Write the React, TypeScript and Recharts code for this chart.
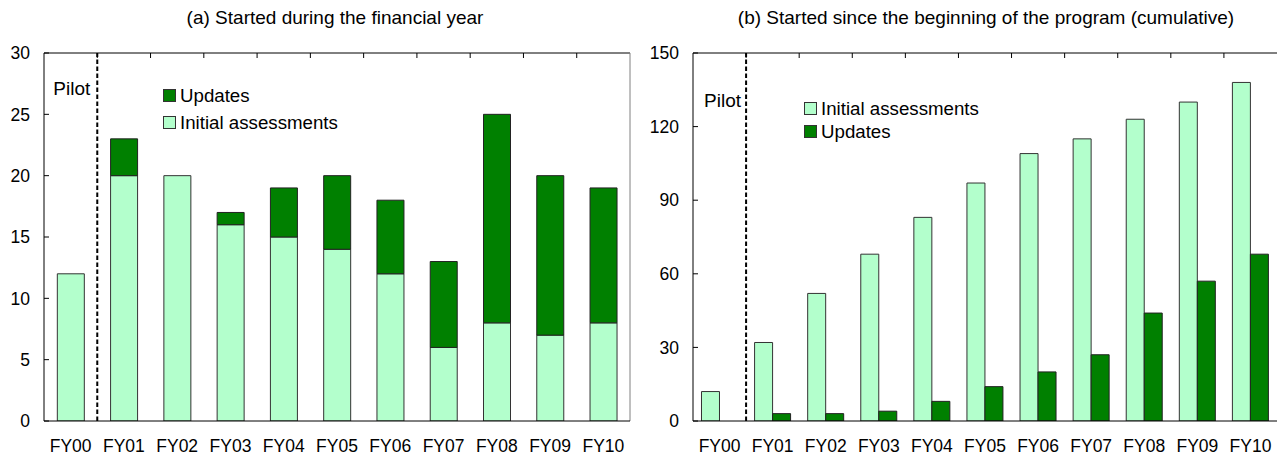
import { BarChart, Bar, XAxis, YAxis, ReferenceLine, Legend } from 'recharts';

const years = ['FY00', 'FY01', 'FY02', 'FY03', 'FY04', 'FY05', 'FY06', 'FY07', 'FY08', 'FY09', 'FY10'];

// (a) started during the financial year
const initialDuring = [12, 20, 20, 16, 15, 14, 12, 6, 8, 7, 8];
const updatesDuring = [0, 3, 0, 1, 4, 6, 6, 7, 17, 13, 11];

// (b) cumulative since the start of the program
const initialCumulative = [12, 32, 52, 68, 83, 97, 109, 115, 123, 130, 138];
const updatesCumulative = [0, 3, 3, 4, 8, 14, 20, 27, 44, 57, 68];

const duringTicks = [0, 5, 10, 15, 20, 25, 30];
const cumulativeTicks = [0, 30, 60, 90, 120, 150];

const LIGHT = '#B3FFCC';
const DARK = '#008000';
const FONT = '"Liberation Sans", Arial, sans-serif';
const PLOT_H = 368;

const duringData = years.map((fy, i) => ({ fy, initial: initialDuring[i], updates: updatesDuring[i] }));
const cumulativeData = years.map((fy, i) => ({ fy, initial: initialCumulative[i], updates: updatesCumulative[i] }));

const tickStyle = { fontSize: 17.5, fill: '#000', fontFamily: FONT };

interface LegendItem {
  label: string;
  color: string;
}

function SwatchLegend({ items, rowHeight }: { items: LegendItem[]; rowHeight: number }) {
  return (
    <div style={{ fontFamily: FONT, fontSize: 18.7, color: '#000' }}>
      {items.map((it) => (
        <div key={it.label} style={{ display: 'flex', alignItems: 'center', height: rowHeight, whiteSpace: 'nowrap' }}>
          <span style={{ width: 11, height: 11, background: it.color, border: '1px solid #333', marginRight: 4 }} />
          <span>{it.label}</span>
        </div>
      ))}
    </div>
  );
}

function pilotLabel(dx: number, dy: number) {
  return (props: any) => {
    const vb = props.viewBox || {};
    return (
      <text x={vb.x + dx} y={vb.y + dy} textAnchor="end" fontSize={19} fontFamily={FONT} fill="#000">
        Pilot
      </text>
    );
  };
}

// short inward ticks at the category boundaries: a full-height line whose only visible dash is the last 5px
function boundaryTicks() {
  return years.slice(1).map((fy) => (
    <ReferenceLine
      key={'t' + fy}
      x={fy}
      position="start"
      stroke="#000"
      strokeWidth={1}
      strokeDasharray={`0 ${PLOT_H - 5} 5 2000`}
    />
  ));
}

function Title({ text, center }: { text: string; center: number }) {
  return (
    <div
      style={{
        position: 'absolute',
        top: 8,
        left: center - 400,
        width: 800,
        textAlign: 'center',
        fontFamily: FONT,
        fontSize: 19,
        lineHeight: '19px',
        color: '#000',
      }}
    >
      {text}
    </div>
  );
}

export default function App() {
  return (
    <div style={{ position: 'absolute', left: 0, top: 0, width: 1283, height: 462, background: '#fff', overflow: 'hidden' }}>
      <Title text="(a) Started during the financial year" center={335} />
      <Title text="(b) Started since the beginning of the program (cumulative)" center={986} />

      <div style={{ position: 'absolute', left: 0, top: 0 }}>
        <BarChart width={640} height={462} data={duringData} margin={{ top: 53, right: 10, bottom: 0, left: 0 }} barCategoryGap="25%">
          <XAxis dataKey="fy" height={41} tick={tickStyle} tickLine={false} tickSize={6} tickMargin={13} axisLine={{ stroke: '#000' }} interval={0} />
          <YAxis width={44} domain={[0, 30]} ticks={duringTicks} tick={tickStyle} tickSize={-5} tickMargin={19} tickLine={{ stroke: '#000' }} axisLine={{ stroke: '#000' }} allowDataOverflow />
          <ReferenceLine y={30} stroke="#000" />
          <ReferenceLine x="FY10" position="end" stroke="#808080" />
          {boundaryTicks()}
          <ReferenceLine x="FY01" position="start" stroke="#000" strokeWidth={2} strokeDasharray="4.5 2.5" label={pilotLabel(-7, 42)} />
          <Legend
            layout="vertical"
            align="center"
            verticalAlign="middle"
            wrapperStyle={{ top: 82, left: 163, width: 'auto' }}
            content={() => (
              <SwatchLegend
                rowHeight={27}
                items={[
                  { label: 'Updates', color: DARK },
                  { label: 'Initial assessments', color: LIGHT },
                ]}
              />
            )}
          />
          <Bar dataKey="initial" stackId="a" fill={LIGHT} stroke="#333" strokeWidth={1} isAnimationActive={false} />
          <Bar dataKey="updates" stackId="a" fill={DARK} stroke="#222" strokeWidth={1} isAnimationActive={false} />
        </BarChart>
      </div>

      <div style={{ position: 'absolute', left: 640, top: 0 }}>
        <BarChart width={643} height={462} data={cumulativeData} margin={{ top: 53, right: 6, bottom: 0, left: 0 }} barCategoryGap="16%" barGap={0}>
          <XAxis dataKey="fy" height={41} tick={tickStyle} tickLine={false} tickSize={6} tickMargin={13} axisLine={{ stroke: '#000' }} interval={0} />
          <YAxis width={53} domain={[0, 150]} ticks={cumulativeTicks} tick={tickStyle} tickSize={-5} tickMargin={19} tickLine={{ stroke: '#000' }} axisLine={{ stroke: '#000' }} allowDataOverflow />
          <ReferenceLine y={150} stroke="#000" />
          <ReferenceLine x="FY10" position="end" stroke="#808080" />
          {boundaryTicks()}
          <ReferenceLine x="FY01" position="start" stroke="#000" strokeWidth={2} strokeDasharray="4.5 2.5" label={pilotLabel(-5, 54)} />
          <Legend
            layout="vertical"
            align="center"
            verticalAlign="middle"
            wrapperStyle={{ top: 97, left: 164, width: 'auto' }}
            content={() => (
              <SwatchLegend
                rowHeight={23}
                items={[
                  { label: 'Initial assessments', color: LIGHT },
                  { label: 'Updates', color: DARK },
                ]}
              />
            )}
          />
          <Bar dataKey="initial" fill={LIGHT} stroke="#333" strokeWidth={1} isAnimationActive={false} />
          <Bar dataKey="updates" fill={DARK} stroke="#222" strokeWidth={1} isAnimationActive={false} />
        </BarChart>
      </div>
    </div>
  );
}
